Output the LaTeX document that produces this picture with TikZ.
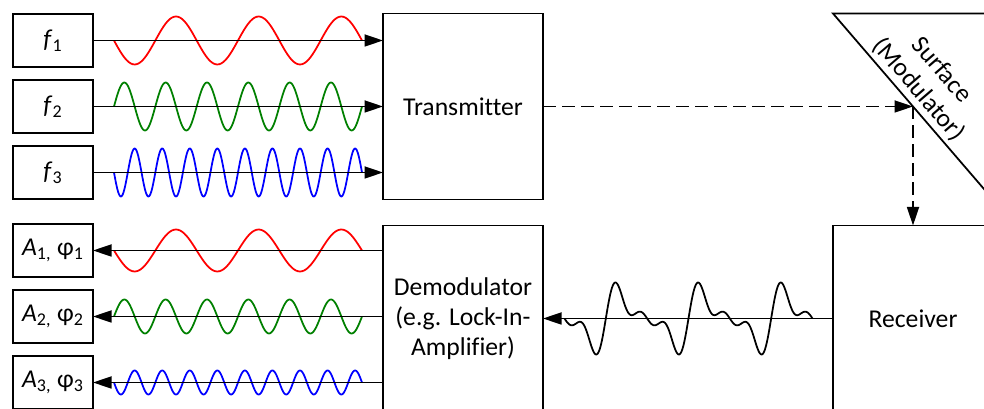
\documentclass[tikz,border=0pt]{standalone}
\usepackage{fontspec}
\setmainfont{Carlito}[Ligatures=NoCommon]
\usepackage{xcolor}
\usepackage{tikz}
\usetikzlibrary{arrows.meta,positioning}

\definecolor{wavegreen}{RGB}{0,128,0}

\begin{document}
\begin{tikzpicture}[
        node distance=0.26cm and 5.8cm,
        valbox/.style={
            draw,
            line width=1pt,
            inner sep=0pt,
            outer sep=0pt,
            minimum width=1.6cm,
            minimum height=1.06cm,
            font={\fontsize{14.6}{17.2}\selectfont}
        },
        block/.style={
            draw,
            line width=1pt,
            outer sep=0pt,
            align=center,
            minimum width=3.2cm,
            minimum height=3.72cm,
            font={\fontsize{14.6}{17.2}\selectfont}
        },
        arrow/.style={-{Triangle[length=0.37cm, width=0.24cm]}, line width=1pt},
        dasharrow/.style={arrow, dash pattern=on 0.25cm off 0.13cm},
        wave/.style={line width=1pt, line join=round}
    ]
        \useasboundingbox (0,0) rectangle (19.68,-8.18);
        \clip (0,0) rectangle (19.68,-8.18);

        \node[valbox] (f1) at (1.06,-0.81) {\textit{f}\textsubscript{1}};
        \node[valbox, below=of f1] (f2) {\textit{f}\textsubscript{2}};
        \node[valbox, below=of f2] (f3) {\textit{f}\textsubscript{3}};
        \node[valbox, below=0.5cm of f3] (a1) {\textit{A}\textsubscript{1,} φ\textsubscript{1}};
        \node[valbox, below=of a1] (a2) {\textit{A}\textsubscript{2,} φ\textsubscript{2}};
        \node[valbox, below=of a2] (a3) {\textit{A}\textsubscript{3,} φ\textsubscript{3}};

        \node[block, right=of f2] (transmitter) {Transmitter};
        \node[block, below=0.52cm of transmitter] (demod) {Demodulator\\(e.g. Lock-In-\\Amplifier)};
        \node[block, right=of demod] (receiver) {Receiver};

        % surface (modulator)
        \coordinate (surftl) at (receiver.west |- transmitter.north);
        \coordinate (surftr) at (receiver.east |- transmitter.north);
        \coordinate (surfbr) at (receiver.east |- transmitter.south);
        \coordinate (hit) at (receiver.north |- transmitter.east);
        \draw[line width=1pt] (surftl) -- (surftr) -- (surfbr) -- cycle;
        \node[rotate=-49.3, align=center, font={\fontsize{14.6}{17.2}\selectfont}] (surface) at (18.6,-1.6) {Surface\\(Modulator)};

        % waves
        \draw[wave, red, shift={(f1.east)}] plot[domain=0:1080, samples=121] ({0.42+\x*4.96/1080}, {-0.48*sin(\x)});
        \draw[wave, wavegreen, shift={(f2.east)}] plot[domain=0:2160, samples=241] ({0.42+\x*4.96/2160}, {0.48*sin(\x)});
        \draw[wave, blue, shift={(f3.east)}] plot[domain=0:3240, samples=361] ({0.42+\x*4.96/3240}, {-0.48*sin(\x)});
        \draw[wave, red, shift={(a1.east)}] plot[domain=0:1080, samples=121] ({0.42+\x*4.96/1080}, {-0.42*sin(\x)});
        \draw[wave, wavegreen, shift={(a2.east)}] plot[domain=0:2160, samples=241] ({0.42+\x*4.96/2160}, {0.34*sin(\x)});
        \draw[wave, blue, shift={(a3.east)}] plot[domain=0:3240, samples=361] ({0.42+\x*4.96/3240}, {-0.24*sin(\x)});
        \draw[wave, shift={(demod.east)}] plot[domain=0:1080, samples=241] ({0.43+\x*4.96/1080}, {-0.385*sin(\x)+0.30*sin(2*\x)-0.204*sin(3*\x)});

        \draw[arrow] (f1.east) -- (f1.east -| transmitter.west);
        \draw[arrow] (f2.east) -- (f2.east -| transmitter.west);
        \draw[arrow] (f3.east) -- (f3.east -| transmitter.west);
        \draw[arrow] (a1.east -| demod.west) -- (a1.east);
        \draw[arrow] (a2.east -| demod.west) -- (a2.east);
        \draw[arrow] (a3.east -| demod.west) -- (a3.east);
        \draw[arrow] (receiver.west) -- (demod.east);
        \draw[dasharrow] (transmitter.east) -- (hit);
        \draw[dasharrow] (hit) -- (receiver.north);
    \end{tikzpicture}
\end{document}
